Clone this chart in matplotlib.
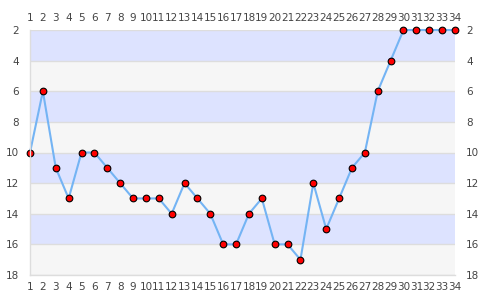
import matplotlib.pyplot as plt
import numpy as np

# positions along x and the value at each one
x_vals = list(range(1, 35))
y_vals = [10, 6, 11, 13, 10, 10, 11, 12, 13, 13, 13, 14, 12, 13, 14, 16, 16,
          14, 13, 16, 16, 17, 12, 15, 13, 11, 10, 6, 4, 2, 2, 2, 2, 2]
y_ticks = [2, 4, 6, 8, 10, 12, 14, 16, 18]

fig = plt.figure(figsize=(4.85, 3.0), dpi=100)
ax = fig.add_axes([30 / 485, 25 / 300, 425 / 485, 245 / 300])

# alternating horizontal bands
for i, lo in enumerate(y_ticks[:-1]):
    col = '#dde3ff' if i % 2 == 0 else '#f6f6f6'
    ax.axhspan(lo, lo + 2, color=col, zorder=0, lw=0)
for t in y_ticks:
    ax.axhline(t, color='#dddddd', lw=1, zorder=1)

ax.plot(x_vals, y_vals, color='#74b4f4', lw=1.5, zorder=2,
        marker='o', markersize=4.8, markerfacecolor='red',
        markeredgecolor='black', markeredgewidth=0.8, clip_on=False)

ax.set_xlim(1, 34)
ax.set_ylim(18, 2)
ax.set_xticks(x_vals)
ax.set_yticks(y_ticks)
ax.tick_params(axis='both', length=0, labelsize=7.5, colors='#444444',
               pad=4)
ax.tick_params(axis='x', labeltop=True, labelbottom=True, pad=5)
ax.tick_params(axis='y', labelleft=True, labelright=True, pad=8)

for side in ['top', 'right']:
    ax.spines[side].set_visible(False)
for side in ['left', 'bottom']:
    ax.spines[side].set_color('#dddddd')
    ax.spines[side].set_linewidth(1)

plt.savefig('out.png', dpi=100)
